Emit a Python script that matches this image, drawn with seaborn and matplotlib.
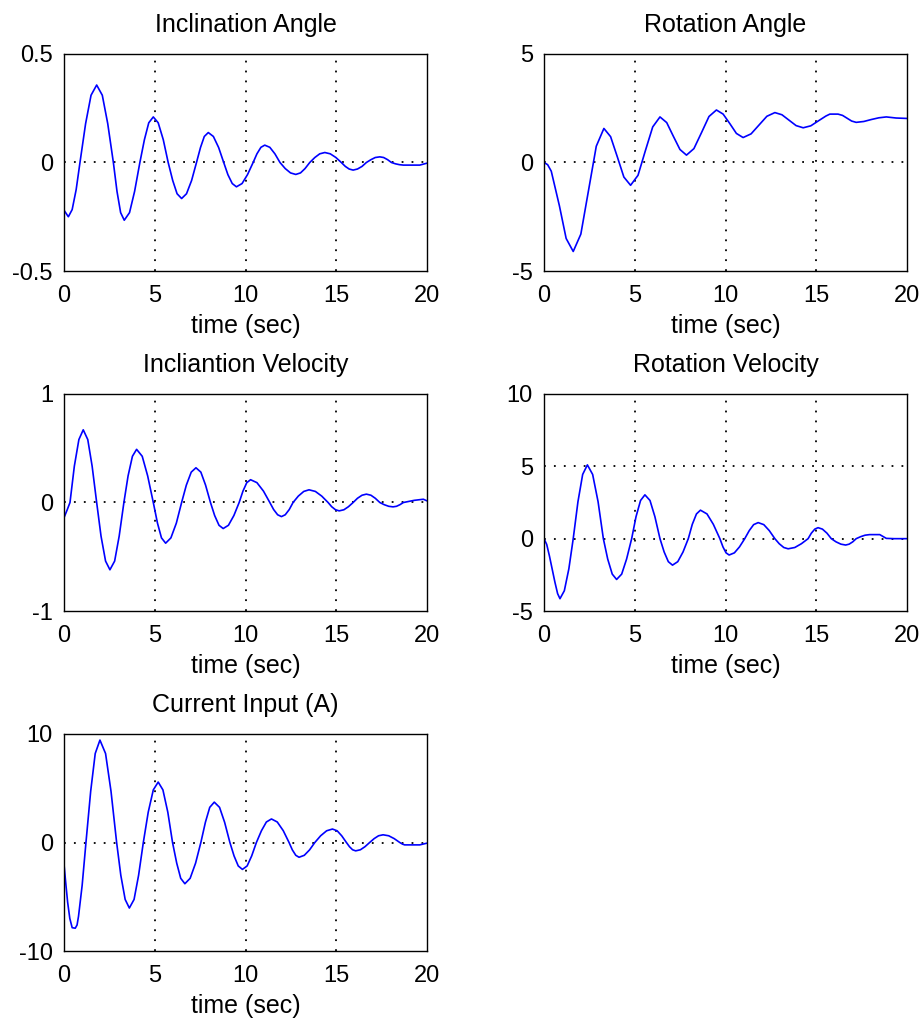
import matplotlib
matplotlib.use("Agg")
import matplotlib.pyplot as plt
import seaborn as sns
import pandas as pd

# ---------------- data ----------------
xticks = [0, 5, 10, 15, 20]
xlabel = "time (sec)"

incl_angle_t = [0.0, 0.24, 0.45, 0.67, 0.88, 1.19, 1.49, 1.8, 2.11, 2.41, 2.72, 2.92,
                3.12, 3.32, 3.61, 3.89, 4.18, 4.43, 4.67, 4.92, 5.19, 5.47, 5.74, 5.99,
                6.23, 6.48, 6.75, 7.03, 7.3, 7.52, 7.73, 7.95, 8.23, 8.52, 8.8, 9.03,
                9.27, 9.5, 9.81, 10.11, 10.42, 10.63, 10.85, 11.06, 11.34, 11.62, 11.9,
                12.19, 12.48, 12.77, 13.03, 13.28, 13.54, 13.82, 14.09, 14.37, 14.67,
                14.98, 15.28, 15.5, 15.71, 15.93, 16.17, 16.42, 16.66, 16.91, 17.15,
                17.4, 17.61, 17.83, 18.04, 18.26, 18.48, 18.7, 19.6, 20.0]
incl_angle_v = [-0.22, -0.25, -0.217, -0.125, 0.0, 0.179, 0.31, 0.357, 0.31, 0.179, 0.0,
                -0.133, -0.231, -0.266, -0.231, -0.133, 0.0, 0.105, 0.183, 0.21, 0.183,
                0.105, 0.0, -0.083, -0.144, -0.166, -0.144, -0.083, 0.0, 0.069, 0.12,
                0.138, 0.12, 0.069, 0.0, -0.056, -0.097, -0.112, -0.097, -0.056, 0.0,
                0.04, 0.07, 0.08, 0.07, 0.04, 0.0, -0.028, -0.048, -0.055, -0.048,
                -0.028, 0.0, 0.023, 0.04, 0.046, 0.04, 0.023, 0.0, -0.018, -0.03,
                -0.035, -0.03, -0.018, 0.0, 0.013, 0.023, 0.026, 0.023, 0.013, 0.0,
                -0.006, -0.01, -0.012, -0.012, -0.003]

rot_angle_t = [0.0, 0.2, 0.4, 0.85, 1.22, 1.61, 2.03, 2.45, 2.88, 3.3, 3.67, 4.04, 4.4,
               4.77, 5.18, 5.58, 5.99, 6.39, 6.76, 7.12, 7.49, 7.85, 8.26, 8.68, 9.09,
               9.5, 9.87, 10.24, 10.6, 10.97, 11.41, 11.85, 12.28, 12.72, 13.11, 13.5,
               13.89, 14.28, 14.7, 15.12, 15.53, 15.75, 16.2, 16.45, 16.7, 16.95, 17.2,
               17.62, 18.03, 18.45, 18.86, 19.4, 20.0]
rot_angle_v = [0.0, -0.1, -0.4, -2.0, -3.5, -4.1, -3.3, -1.3, 0.75, 1.57, 1.19, 0.26,
               -0.67, -1.05, -0.59, 0.53, 1.64, 2.1, 1.84, 1.22, 0.6, 0.34, 0.64, 1.38,
               2.12, 2.42, 2.23, 1.79, 1.34, 1.15, 1.32, 1.73, 2.13, 2.3, 2.2, 1.95,
               1.7, 1.6, 1.69, 1.92, 2.14, 2.23, 2.23, 2.17, 2.04, 1.91, 1.85, 1.89,
               1.98, 2.06, 2.1, 2.05, 2.03]

incl_vel_t = [0.0, 0.17, 0.33, 0.57, 0.82, 1.06, 1.31, 1.55, 1.8, 2.04, 2.29, 2.53,
              2.79, 3.04, 3.3, 3.53, 3.77, 4.0, 4.31, 4.61, 4.92, 5.15, 5.37, 5.6, 5.89,
              6.19, 6.48, 6.74, 7.01, 7.27, 7.54, 7.8, 8.07, 8.3, 8.54, 8.77, 9.06,
              9.36, 9.65, 9.86, 10.07, 10.28, 10.63, 10.99, 11.34, 11.55, 11.77, 11.98,
              12.19, 12.41, 12.62, 12.91, 13.21, 13.5, 13.85, 14.2, 14.55, 14.75,
              14.96, 15.16, 15.42, 15.67, 15.93, 16.17, 16.42, 16.66, 16.91, 17.15,
              17.4, 17.64, 17.89, 18.13, 18.32, 18.51, 18.7, 19.3, 19.8, 20.0]
incl_vel_v = [-0.14, -0.07, 0.0, 0.335, 0.58, 0.67, 0.58, 0.335, 0.0, -0.31, -0.54,
              -0.62, -0.54, -0.31, 0.0, 0.245, 0.426, 0.49, 0.426, 0.245, 0.0, -0.19,
              -0.326, -0.375, -0.326, -0.19, 0.0, 0.16, 0.28, 0.32, 0.28, 0.16, 0.0,
              -0.12, -0.21, -0.24, -0.21, -0.12, 0.0, 0.105, 0.183, 0.21, 0.183, 0.105,
              0.0, -0.065, -0.113, -0.13, -0.113, -0.065, 0.0, 0.059, 0.102, 0.117,
              0.102, 0.059, 0.0, -0.039, -0.067, -0.077, -0.067, -0.039, 0.0, 0.039,
              0.067, 0.077, 0.067, 0.039, 0.0, -0.02, -0.035, -0.04, -0.035, -0.02,
              0.0, 0.02, 0.03, 0.015]

rot_vel_t = [0.0, 0.15, 0.3, 0.45, 0.6, 0.75, 0.88, 1.12, 1.37, 1.61, 1.87, 2.13, 2.39,
             2.68, 2.98, 3.27, 3.51, 3.76, 4.0, 4.28, 4.55, 4.83, 5.07, 5.32, 5.56,
             5.84, 6.11, 6.39, 6.62, 6.85, 7.08, 7.37, 7.66, 7.95, 8.17, 8.4, 8.62,
             8.98, 9.33, 9.69, 9.86, 10.03, 10.2, 10.49, 10.77, 11.06, 11.31, 11.55,
             11.8, 12.11, 12.41, 12.72, 12.96, 13.21, 13.45, 13.82, 14.18, 14.55,
             14.73, 14.92, 15.1, 15.34, 15.59, 15.83, 16.09, 16.36, 16.62, 16.81,
             17.01, 17.2, 17.45, 17.69, 17.94, 18.5, 18.68, 18.86, 19.3, 20.0]
rot_vel_v = [0.0, -0.4, -1.2, -2.1, -3.0, -3.8, -4.15, -3.6, -2.08, 0.0, 2.55, 4.44,
             5.1, 4.44, 2.55, 0.0, -1.41, -2.45, -2.82, -2.45, -1.41, 0.0, 1.52, 2.64,
             3.03, 2.64, 1.52, 0.0, -0.92, -1.59, -1.83, -1.59, -0.92, 0.0, 0.99, 1.71,
             1.97, 1.71, 0.99, 0.0, -0.57, -0.98, -1.13, -0.98, -0.57, 0.0, 0.56, 0.97,
             1.11, 0.97, 0.56, 0.0, -0.35, -0.61, -0.7, -0.61, -0.35, 0.0, 0.38, 0.66,
             0.76, 0.66, 0.38, 0.0, -0.22, -0.38, -0.44, -0.38, -0.22, 0.0, 0.14, 0.24,
             0.28, 0.28, 0.15, 0.02, 0.0, 0.0]

current_t = [0.0, 0.1, 0.2, 0.32, 0.45, 0.62, 0.72, 0.8, 1.0, 1.21, 1.47, 1.72, 1.98,
             2.29, 2.59, 2.9, 3.13, 3.37, 3.6, 3.86, 4.11, 4.37, 4.64, 4.92, 5.19, 5.45,
             5.72, 5.98, 6.21, 6.43, 6.66, 6.95, 7.25, 7.54, 7.79, 8.03, 8.28, 8.57,
             8.85, 9.14, 9.37, 9.6, 9.83, 10.09, 10.34, 10.6, 10.88, 11.15, 11.43,
             11.75, 12.08, 12.4, 12.58, 12.77, 12.95, 13.24, 13.53, 13.82, 14.14,
             14.47, 14.79, 15.05, 15.3, 15.56, 15.73, 15.9, 16.07, 16.33, 16.58, 16.84,
             17.09, 17.33, 17.58, 17.89, 18.19, 18.5, 18.65, 18.77, 19.6, 20.0]
current_v = [-2.0, -3.8, -5.5, -7.0, -7.85, -7.9, -7.6, -6.8, -3.95, 0.0, 4.72, 8.2,
             9.44, 8.2, 4.72, 0.0, -3.02, -5.25, -6.04, -5.25, -3.02, 0.0, 2.79, 4.85,
             5.57, 4.85, 2.79, 0.0, -1.9, -3.3, -3.8, -3.3, -1.9, 0.0, 1.86, 3.24, 3.72,
             3.24, 1.86, 0.0, -1.24, -2.16, -2.48, -2.16, -1.24, 0.0, 1.09, 1.89, 2.17,
             1.89, 1.09, 0.0, -0.68, -1.18, -1.36, -1.18, -0.68, 0.0, 0.62, 1.08, 1.24,
             1.08, 0.62, 0.0, -0.39, -0.67, -0.77, -0.67, -0.39, 0.0, 0.36, 0.62, 0.71,
             0.62, 0.36, 0.0, -0.15, -0.22, -0.22, -0.06]

titles = ["Inclination Angle", "Rotation Angle", "Incliantion Velocity",
          "Rotation Velocity", "Current Input (A)"]
yticks_list = [[-0.5, 0, 0.5], [-5, 0, 5], [-1, 0, 1], [-5, 0, 5, 10], [-10, 0, 10]]
ytick_labels = [["-0.5", "0", "0.5"], ["-5", "0", "5"], ["-1", "0", "1"],
                ["-5", "0", "5", "10"], ["-10", "0", "10"]]
series = [(incl_angle_t, incl_angle_v), (rot_angle_t, rot_angle_v),
          (incl_vel_t, incl_vel_v), (rot_vel_t, rot_vel_v), (current_t, current_v)]

# ---------------- styling / layout ----------------
sns.set_style("white")
plt.rcParams["font.family"] = ["Liberation Sans", "DejaVu Sans"]

W, H = 922, 1021
fig = plt.figure(figsize=(W / 100, H / 100), dpi=100)

col_left = [64, 544]
row_top = [54, 394, 734]
ax_w, ax_h = 363, 217

positions = [(0, 0), (1, 0), (0, 1), (1, 1), (0, 2)]

for i, (title, (t, v)) in enumerate(zip(titles, series)):
    c, r = positions[i]
    left = col_left[c] / W
    bottom = (H - row_top[r] - ax_h) / H
    ax = fig.add_axes([left, bottom, ax_w / W, ax_h / H])
    df = pd.DataFrame({"time": t, "value": v})
    sns.lineplot(data=df, x="time", y="value", ax=ax, color="#0000ff",
                 linewidth=1.2, estimator=None, sort=False)
    yt = yticks_list[i]
    ax.set_xlim(0, 20)
    ax.set_ylim(yt[0], yt[-1])
    ax.set_xticks(xticks)
    ax.set_xticklabels([str(x) for x in xticks])
    ax.set_yticks(yt)
    ax.set_yticklabels(ytick_labels[i])
    ax.set_axisbelow(True)
    ax.grid(True, color="black", linestyle=(0, (1, 4.5)), linewidth=1.3)
    # no grid lines on the axes boundaries (they would sit on the frame)
    xg = ax.xaxis.get_gridlines()
    yg = ax.yaxis.get_gridlines()
    xg[0].set_visible(False)
    xg[-1].set_visible(False)
    yg[0].set_visible(False)
    yg[-1].set_visible(False)
    ax.tick_params(axis="x", length=0, labelsize=17, pad=10, colors="black")
    ax.tick_params(axis="y", length=0, labelsize=17, pad=8, colors="black")
    for sp in ax.spines.values():
        sp.set_color("black")
        sp.set_linewidth(1.0)
        sp.set_visible(True)
        sp.set_zorder(5)
    ax.set_title(title, fontsize=18, pad=16, color="black")
    ax.set_xlabel(xlabel, fontsize=18, labelpad=5, color="black")
    ax.set_ylabel("")

fig.savefig("out.png", dpi=100, facecolor="white")
